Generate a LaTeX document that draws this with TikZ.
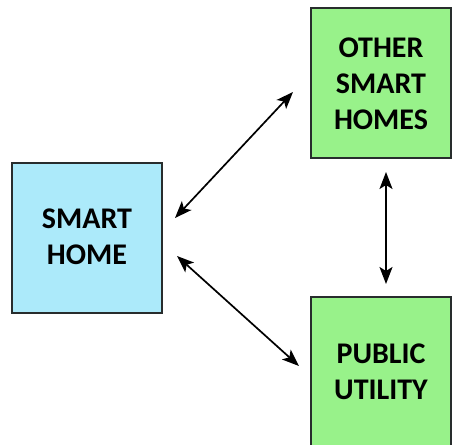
\documentclass[tikz,border=0pt]{standalone}
\usepackage{fontspec}
\setmainfont{Carlito}
\usetikzlibrary{arrows.meta}
\definecolor{boxblue}{RGB}{172,234,250}
\definecolor{boxgreen}{RGB}{152,242,138}
\definecolor{edgegray}{RGB}{40,45,45}
\tikzset{
  box/.style={draw=edgegray, line width=1.2pt, align=center, font=\fontsize{30}{36}\selectfont\bfseries, text=black},
  link/.style={line width=1.7pt, {Stealth[length=17pt,width=13pt,inset=4pt]}-{Stealth[length=17pt,width=13pt,inset=4pt]}}
}
\begin{document}
\begin{tikzpicture}[x=1pt,y=-1pt]
\useasboundingbox (0,0) rectangle (452,444);
\begin{scope}
\clip (0,0) rectangle (452,444);
\draw[box, fill=boxblue] (12,163) rectangle (162,313);
\draw[box, fill=boxgreen] (311,8) rectangle (451,158);
\draw[box, fill=boxgreen] (311,297) rectangle (451,460);
\end{scope}
\node[box, draw=none] (sh) at (87,237) {SMART\\HOME};
\node[box, draw=none] (osh) at (381,84) {OTHER\\SMART\\HOMES};
\node[box, draw=none] (pu) at (381,372) {PUBLIC\\UTILITY};
\coordinate (a1) at (175,218);
\coordinate (a2) at (293,92);
\coordinate (b1) at (177,256);
\coordinate (b2) at (299,366);
\coordinate (c1) at (386,172);
\coordinate (c2) at (386,284);
\draw[link] (a1) -- (a2);
\draw[link] (b1) -- (b2);
\draw[link] (c1) -- (c2);
\end{tikzpicture}
\end{document}
